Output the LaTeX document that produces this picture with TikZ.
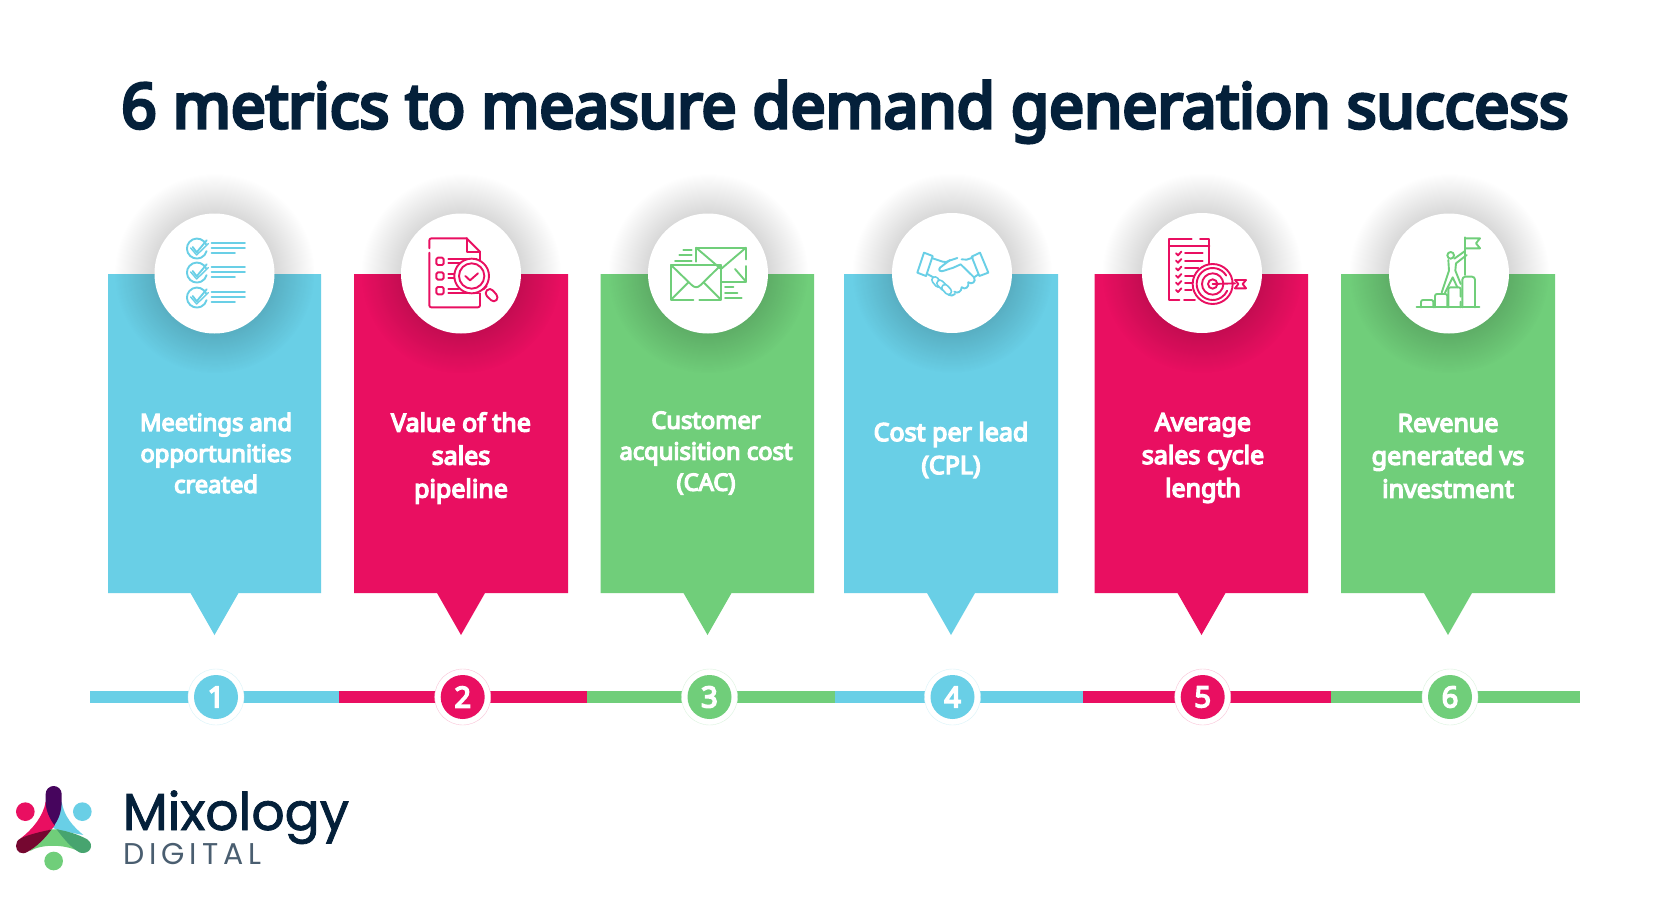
\documentclass[tikz,border=0pt]{standalone}
\usepackage{fontspec}
\setmainfont{Noto Sans}[BoldFont={Noto Sans},BoldFeatures={FakeBold=5.5}]
\newfontfamily\logofont[FakeBold=1.5]{Poppins}
\newfontfamily\logosmall[LetterSpace=16]{Poppins}
\usetikzlibrary{fadings}
\definecolor{cblue}{HTML}{69CFE6}
\definecolor{cpink}{HTML}{E90F61}
\definecolor{cgreen}{HTML}{70CE7A}
\definecolor{cnavy}{HTML}{04203A}
\definecolor{cgrey}{HTML}{4A5E70}
\tikzfading[name=softc,inner color=transparent!62,outer color=transparent!100]
\tikzset{
  panel/.style={fill=#1},
  segm/.style={fill=#1},
  halo/.style={fill=black,path fading=softc},
  disc/.style={circle,fill=white,inner sep=0pt,minimum size=120pt},
  ptext/.style={text=white,align=center,font=\fontsize{23.7}{31}\selectfont\bfseries,inner sep=0pt},
  ptextb/.style={text=white,align=center,font=\fontsize{25}{33}\selectfont\bfseries,inner sep=0pt},
  numb/.style={circle,fill=#1,text=white,inner sep=0pt,minimum size=44pt,font=\fontsize{29}{29}\selectfont\bfseries},
  ring/.style={circle,fill=white,draw=#1!25,line width=.4pt,inner sep=0pt,minimum size=56pt},
  ic/.style={draw=#1,line width=1.9pt,line cap=round,line join=round},
}
\newcommand{\panelshape}[4]{% left, right, tip x, colour
  \fill[panel=#4] (#1,274) -- (#2,274) -- (#2,593) -- (#3+24,593) -- (#3,635) -- (#3-24,593) -- (#1,593) -- cycle;
}
\begin{document}
\begin{tikzpicture}[x=1pt,y=-1pt]
\useasboundingbox (0,0) rectangle (1663,899);
\fill[white] (0,0) rectangle (1663,899);

\node[text=cnavy,font=\fontsize{62}{62}\selectfont\bfseries,anchor=base,inner sep=0pt] (title) at (845,128) {6 metrics to measure demand generation success};

% panels
\panelshape{108}{321}{214.5}{cblue}
\panelshape{354}{568}{461}{cpink}
\panelshape{600.5}{814}{707.5}{cgreen}
\panelshape{844}{1058}{951}{cblue}
\panelshape{1094.5}{1308}{1201.5}{cpink}
\panelshape{1341}{1555}{1448}{cgreen}

% halos and discs
\foreach \n/\cx/\cy in {a/214.5/273.5,b/461/273.5,c/708/273.5,d/952/273,e/1202/273,f/1449/273.5}{
  \fill[halo] (\cx,\cy) circle (100);
  \node[disc] (disc\n) at (\cx,\cy) {};
}

% timeline
\fill[segm=cblue] (90,691) rectangle (339,703);
\fill[segm=cpink] (339,691) rectangle (587,703);
\fill[segm=cgreen] (587,691) rectangle (835,703);
\fill[segm=cblue] (835,691) rectangle (1083,703);
\fill[segm=cpink] (1083,691) rectangle (1331,703);
\fill[segm=cgreen] (1331,691) rectangle (1580,703);

\foreach \n/\cx/\col/\lab in {1/216/cblue/1,2/462.7/cpink/2,3/709.5/cgreen/3,4/952.5/cblue/4,5/1202.7/cpink/5,6/1450/cgreen/6}{
  \node[ring=\col] (ring\n) at (\cx,697) {};
  \node[numb=\col] (num\n) at (\cx,697) {\lab};
}

% texts
\node[ptext] (t1) at (216,453) {Meetings and\\opportunities\\created};
\node[ptextb] (t2) at (461,458) {Value of the\\sales\\pipeline};
\node[ptext] (t3) at (706,453) {Customer\\acquisition cost\\(CAC)};
\node[ptextb] (t4) at (951,450) {Cost per lead\\(CPL)};
\node[ptextb] (t5) at (1203,458) {Average\\sales cycle\\length};
\node[ptextb] (t6) at (1448,456) {Revenue\\generated vs\\investment};

% icon 1: checklist
\begin{scope}[shift={(100,200)},scale=0.33333]
\foreach \y in {145,217,292}{
  \draw[ic=cblue] (318,\y-12) arc[start angle=-25,end angle=-345,radius=30] ;
  \draw[ic=cblue] (278,\y-4) -- (290,\y+12) -- (320,\y-24);
  \draw[ic=cblue,line width=1.4pt] (272,\y-1) -- (290,\y+20) -- (325,\y-14);
  \draw[ic=cblue] (335,\y-15) -- (435,\y-15) (335,\y) -- (435,\y) (335,\y+15) -- (405,\y+15);
}
\end{scope}

% icon 2: document and magnifier
\begin{scope}[shift={(100,200)},scale=0.33333]
\draw[ic=cpink,rounded corners=2pt] (988,145) -- (988,115) -- (1100,115);
\draw[ic=cpink] (1100,115) -- (1140,155) -- (1140,180);
\draw[ic=cpink] (1100,115) -- (1100,155) -- (1140,155);
\draw[ic=cpink,rounded corners=2pt] (988,158) -- (988,322) -- (1140,322) -- (1140,280);
\foreach \y in {184,228,272}{\draw[ic=cpink,rounded corners=1.5pt] (1009,\y-11) rectangle (1031,\y+11);}
\draw[ic=cpink] (1045,178) -- (1130,178) (1045,190) -- (1085,190) (1045,222) -- (1065,222) (1045,235) -- (1065,235) (1045,268) -- (1075,268) (1045,280) -- (1135,280);
\fill[white] (1115,228) circle (52);
\draw[ic=cpink] (1115,228) circle (52);
\draw[ic=cpink] (1115,228) circle (38);
\draw[ic=cpink] (1096,228) -- (1110,241) -- (1134,220);
\draw[ic=cpink] (1150,268) -- (1160,258);
\draw[ic=cpink,rounded corners=4pt] (1170,262) -- (1197,292) -- (1182,309) -- (1152,280) -- cycle;
\end{scope}

% icon 3: envelopes
\begin{scope}[shift={(620,200)},scale=0.33333]
\draw[ic=cgreen] (228,185) -- (228,143) -- (378,143) -- (378,178);
\draw[ic=cgreen] (378,198) -- (378,247) -- (305,247);
\draw[ic=cgreen] (228,143) -- (303,207) -- (378,143);
\draw[ic=cgreen] (345,207) -- (378,245);
\draw[ic=cgreen] (220,300) -- (153,300) -- (153,195) -- (303,195) -- (303,300) -- (238,300);
\draw[ic=cgreen] (153,195) -- (215,255) .. controls (225,264) and (232,264) .. (242,255) -- (303,195);
\draw[ic=cgreen] (155,297) -- (205,247) (301,297) -- (251,247);
\draw[ic=cgreen] (190,150) -- (215,150) (178,165) -- (215,165) (165,182) -- (215,182);
\draw[ic=cgreen] (315,262) -- (340,262) (315,278) -- (352,278) (315,294) -- (365,294);
\end{scope}

% icon 4: handshake
\begin{scope}[shift={(620,200)},scale=0.33333]
\draw[ic=cblue] (912,158) -- (938,168) -- (918,228) -- (892,218) -- cycle;
\draw[ic=cblue] (1080,158) -- (1105,218) -- (1078,228) -- (1055,170) -- cycle;
\draw[ic=cblue] (938,175) -- (968,185) .. controls (975,188) and (982,186) .. (988,182) -- (1012,174);
\draw[ic=cblue] (1025,178) -- (1040,179) -- (1058,173);
\draw[ic=cblue] (990,180) -- (960,203) .. controls (952,212) and (964,216) .. (972,212) -- (1000,203) -- (1022,193) -- (1062,232);
\draw[ic=cblue] (1062,232) -- (1074,224);
\draw[ic=cblue] (1062,232) .. controls (1070,245) and (1055,255) .. (1045,247);
\draw[ic=cblue] (1045,247) .. controls (1048,262) and (1035,270) .. (1025,262);
\draw[ic=cblue] (1025,262) .. controls (1025,275) and (1012,282) .. (1003,275);
\draw[ic=cblue] (1005,282) .. controls (1000,288) and (992,288) .. (985,284);
\draw[ic=cblue] (922,222) -- (940,232);
\foreach \a/\b/\c/\d in {945/240/955/252,960/250/972/262,975/263/985/274}{
  \draw[cblue,line width=8pt,line cap=round] (\a,\b) -- (\c,\d);
  \draw[white,line width=4.4pt,line cap=round] (\a,\b) -- (\c,\d);
}
\end{scope}

% icon 5: checklist and target
\begin{scope}[shift={(1120,200)},scale=0.33333]
\draw[ic=cpink] (215,118) -- (148,118) -- (148,300) -- (178,300) (192,300) -- (225,300);
\draw[ic=cpink] (240,118) -- (268,118) -- (268,195) (148,138) -- (268,138);
\foreach \y in {160,182,205,227,248,270}{\draw[ic=cpink] (168,\y) -- (174,\y+6) -- (184,\y-5);}
\draw[ic=cpink] (195,160) -- (248,160) (195,182) -- (248,182) (195,205) -- (235,205) (195,227) -- (220,227) (195,248) -- (215,248) (195,270) -- (215,270);
\fill[white] (278,252) circle (60);
\draw[ic=cpink] (278,252) circle (60);
\draw[ic=cpink] (318.7,226.6) arc[start angle=-32,end angle=-335,radius=48];
\draw[ic=cpink] (278,252) circle (32);
\draw[ic=cpink] (278,252) circle (14);
\draw[ic=cpink] (278,252) -- (345,250);
\draw[ic=cpink] (345,240) -- (378,240) -- (368,252) -- (378,265) -- (345,265) -- (355,252) -- cycle;
\end{scope}

% icon 6: climber and flag
\begin{scope}[shift={(1120,200)},scale=0.33333]
\draw[ic=cgreen] (890,322) -- (1078,322);
\draw[ic=cgreen,rounded corners=2pt] (903,322) -- (903,300) -- (940,300) -- (940,322);
\draw[ic=cgreen,rounded corners=2pt] (945,322) -- (945,282) -- (982,282) -- (982,322);
\draw[ic=cgreen,rounded corners=2pt] (985,322) -- (985,262) -- (1022,262) -- (1022,290) (1022,305) -- (1022,322);
\draw[ic=cgreen,rounded corners=3pt] (1027,322) -- (1027,230) -- (1065,230) -- (1065,322);
\draw[ic=cgreen] (1035,112) -- (1035,225);
\draw[ic=cgreen] (1035,115) -- (1080,115) -- (1068,130) -- (1080,145) -- (1035,145);
\draw[ic=cgreen] (992,166) circle (10);
\draw[ic=cgreen] (985,180) -- (987,212) -- (976,245) -- (965,278);
\draw[ic=cgreen] (1003,176) -- (1035,153) (1040,165) -- (1008,190) -- (1006,212) -- (1022,252);
\draw[ic=cgreen] (975,278) -- (998,232) -- (1012,262);
\end{scope}

% logo
\begin{scope}[shift={(0,770)},scale=0.33333]
\fill[cpink] (76,125) circle (28);
\fill[cblue] (247,125) circle (28);
\fill[cgreen] (161,273) circle (28);
\fill[cblue] (185,95) .. controls (192,140) and (220,170) .. (250,195) -- (170,180) -- (155,170) -- cycle;
\fill[cpink] (137,95) .. controls (130,140) and (95,180) .. (62,205) -- (155,178) -- (165,165) -- cycle;
\fill[cgreen] (90,243) .. controls (125,222) and (190,222) .. (235,243) -- (175,178) -- (152,178) -- cycle;
\fill[cpink!55!blue!55!black] (137,72) arc[start angle=180,end angle=360,radius=24] -- (185,95) .. controls (185,125) and (175,150) .. (163,165) .. controls (148,145) and (137,120) .. (137,95) -- cycle;
\fill[cpink!50!black] (62,205) .. controls (90,192) and (125,185) .. (155,178) .. controls (135,205) and (110,230) .. (85,244) .. controls (65,258) and (48,245) .. (48,228) .. controls (48,218) and (52,210) .. (62,205) -- cycle;
\fill[cgreen!70!teal!90!black] (170,178) .. controls (200,183) and (235,193) .. (262,208) .. controls (285,225) and (270,255) .. (240,248) .. controls (215,235) and (190,205) .. (170,178) -- cycle;
\node[text=cnavy,font=\logofont\fontsize{52}{52}\selectfont,anchor=base west,inner sep=0pt] (logo1) at (368,180) {Mixology};
\node[text=cgrey,font=\logosmall\fontsize{30}{30}\selectfont,anchor=base west,inner sep=0pt] (logo2) at (370,283) {DIGITAL};
\end{scope}
\end{tikzpicture}
\end{document}
